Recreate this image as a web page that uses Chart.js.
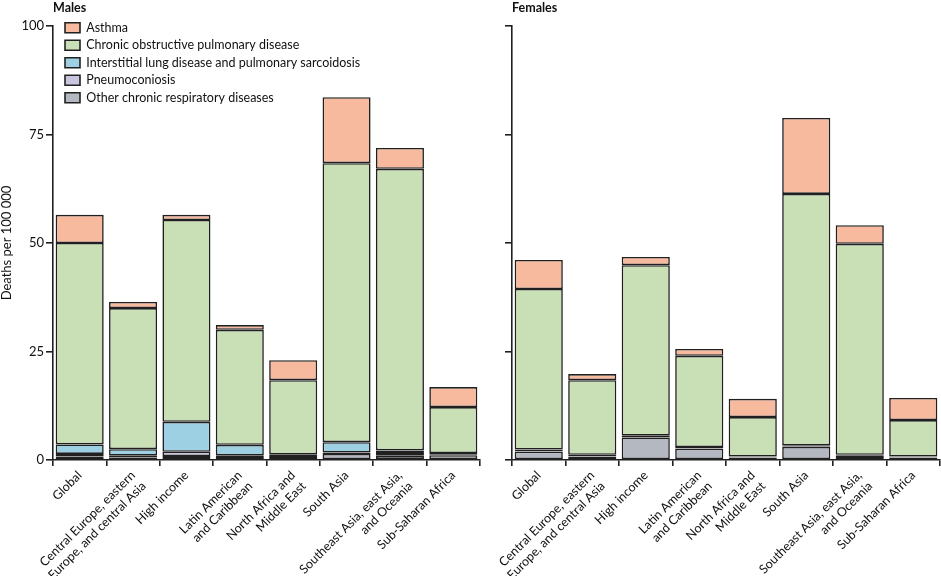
<!DOCTYPE html>
<html>
<head>
<meta charset="utf-8">
<script src="https://cdn.jsdelivr.net/npm/chart.js@4/dist/chart.umd.min.js"></script>
<style>
  html, body { margin: 0; padding: 0; background: #ffffff; }
  #wrap { position: relative; width: 941px; height: 576px; }
  #male { position: absolute; left: 0; top: 0; }
  #female { position: absolute; left: 490px; top: 0; }
</style>
</head>
<body>
<div id="wrap">
  <canvas id="male" width="490" height="576"></canvas>
  <canvas id="female" width="451" height="576"></canvas>
</div>
<script>
// ---- Data ----
const categories = [
  'Global',
  ['Central Europe, eastern', 'Europe, and central Asia'],
  'High income',
  ['Latin American', 'and Caribbean'],
  ['North Africa and', 'Middle East'],
  'South Asia',
  ['Southeast Asia, east Asia,', 'and Oceania'],
  'Sub-Saharan Africa'
];
const seriesNames = [
  'Other chronic respiratory diseases',
  'Pneumoconiosis',
  'Interstitial lung disease and pulmonary sarcoidosis',
  'Chronic obstructive pulmonary disease',
  'Asthma'
];
const yTicks = [0, 25, 50, 75, 100];

// Males (deaths per 100 000)
const maleOther     = [0.8, 0.6, 0.9, 0.9, 0.7, 1.4, 1.0, 1.1];
const malePneumo    = [0.6, 0.4, 1.0, 0.2, 0.2, 0.3, 0.6, 0.2];
const maleInterstit = [2.2, 1.5, 6.9, 2.4, 0.4, 2.4, 0.6, 0.3];
const maleCOPD      = [46.4, 32.5, 46.5, 26.5, 17.1, 64.3, 64.9, 10.6];
const maleAsthma    = [6.5, 1.4, 1.2, 1.1, 4.6, 15.2, 4.8, 4.6];

// Females (deaths per 100 000)
const femaleOther     = [1.9, 0.8, 5.2, 2.6, 0.5, 3.0, 0.9, 0.5];
const femalePneumo    = [0.1, 0.05, 0.1, 0.1, 0.05, 0.1, 0.1, 0.1];
const femaleInterstit = [0.4, 0.35, 0.3, 0.3, 0.25, 0.3, 0.2, 0.2];
const femaleCOPD      = [37.0, 17.2, 39.3, 21.0, 9.1, 57.9, 48.6, 8.4];
const femaleAsthma    = [6.7, 1.4, 1.9, 1.6, 4.2, 17.5, 4.3, 5.1];

// ---- Styles ----
const colors = ['#b4b8c0', '#cbc4df', '#9ed0e4', '#c9dfb5', '#f7ba9f'];
const edge = '#202020';
const txt = '#111111';
const FONT = 'Lato, "Open Sans", sans-serif';

function makeDatasets(arrs) {
  return arrs.map((d, i) => ({
    label: seriesNames[i],
    data: d,
    backgroundColor: colors[i],
    borderColor: edge,
    borderWidth: 1.6,
    borderSkipped: false,
    barPercentage: 0.9,
    categoryPercentage: 1.0
  }));
}

const legendShift = {
  id: 'legendShift',
  afterLayout(chart) {
    const lg = chart.legend;
    if (lg && chart.options.plugins.legend.display) {
      lg.left = chart.chartArea.left + 7;
      lg.top = chart.chartArea.top - 9.5;
      lg.right = lg.left + lg.width;
      lg.bottom = lg.top + lg.height;
    }
  }
};

function makeChart(id, title, arrs, showYLabels, showLegend, padRight, yWidth) {
  return new Chart(document.getElementById(id), {
    type: 'bar',
    data: { labels: categories, datasets: makeDatasets(arrs) },
    plugins: [legendShift],
    options: {
      responsive: false,
      animation: false,
      layout: { padding: { left: 0, right: padRight, top: 0, bottom: 0 } },
      plugins: {
        tooltip: { enabled: false },
        title: {
          display: true,
          text: title,
          align: 'start',
          fullSize: false,
          color: txt,
          font: { family: FONT, size: 12.5, weight: 'bold', lineHeight: 1.2 },
          padding: { top: 0, bottom: 11 }
        },
        legend: {
          display: showLegend,
          position: 'chartArea',
          align: 'start',
          reverse: true,
          labels: {
            color: txt,
            boxWidth: 15,
            boxHeight: 10,
            padding: 5,
            font: { family: FONT, size: 12.5 }
          }
        }
      },
      scales: {
        x: {
          stacked: true,
          grid: {
            offset: true,
            drawOnChartArea: false,
            drawTicks: true,
            tickLength: 6,
            color: edge,
            lineWidth: 1.6
          },
          border: { display: true, color: edge, width: 1.6 },
          ticks: {
            autoSkip: false,
            maxRotation: 45,
            minRotation: 45,
            padding: 2,
            color: txt,
            font: { family: FONT, size: 12.5, lineHeight: 1.2 }
          },
          afterFit(scale) { scale.height = 116; }
        },
        y: {
          stacked: true,
          min: 0,
          max: 100,
          afterBuildTicks(scale) { scale.ticks = yTicks.map(v => ({ value: v })); },
          grid: {
            drawOnChartArea: false,
            drawTicks: true,
            tickLength: 7,
            color: edge,
            lineWidth: 1.6
          },
          border: { display: true, color: edge, width: 1.6 },
          ticks: {
            display: showYLabels,
            padding: 2,
            color: txt,
            font: { family: FONT, size: 13 }
          },
          title: {
            display: showYLabels,
            text: 'Deaths per 100 000',
            color: txt,
            font: { family: FONT, size: 13, lineHeight: 1.1 },
            padding: { top: 0, bottom: 0 }
          },
          afterFit(scale) { scale.width = yWidth; }
        }
      }
    }
  });
}

makeChart('male', 'Males',
  [maleOther, malePneumo, maleInterstit, maleCOPD, maleAsthma],
  true, true, 10, 53);
makeChart('female', 'Females',
  [femaleOther, femalePneumo, femaleInterstit, femaleCOPD, femaleAsthma],
  false, false, 1, 22);
</script>
</body>
</html>
